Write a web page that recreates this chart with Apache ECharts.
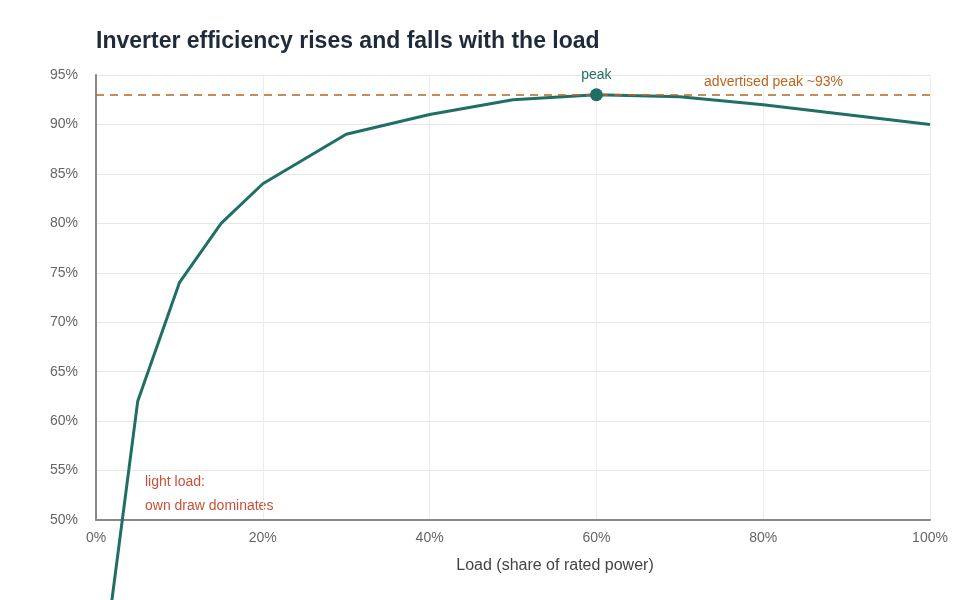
<!DOCTYPE html>
<html>
<head>
<meta charset="utf-8">
<style>
  html, body { margin: 0; padding: 0; background: #fff; }
  #chart { width: 980px; height: 600px; }
</style>
<script src="https://cdn.jsdelivr.net/npm/echarts@6/dist/echarts.min.js"></script>
</head>
<body>
<div id="chart"></div>
<script>
  // load (% of rated power) and efficiency (%)
  const loadPct = [1, 5, 10, 15, 20, 30, 40, 50, 60, 70, 80, 100]
  const efficiency = [36, 62, 74, 80, 84, 89, 91, 92.5, 93, 92.8, 92, 90]
  const advertisedPeak = 93
  const peakPoint = [60, 93]

  const teal = '#1f6f66'
  const orange = '#b8661e'

  const chart = echarts.init(document.getElementById('chart'))

  chart.setOption({
    animation: false,
    textStyle: { fontFamily: 'Liberation Sans, Arial, sans-serif' },
    title: {
      text: 'Inverter efficiency rises and falls with the load',
      left: 91,
      top: 25,
      textStyle: { fontSize: 23, fontWeight: 'bold', color: '#1f2a3a' }
    },
    grid: { left: 96, right: 50, top: 75, bottom: 80 },
    xAxis: {
      type: 'value',
      min: 0,
      max: 100,
      interval: 20,
      name: 'Load (share of rated power)',
      nameLocation: 'middle',
      nameGap: 38,
      nameTextStyle: { fontSize: 16, color: '#444', padding: [0, 0, 0, 84] },
      axisLine: { lineStyle: { color: '#888', width: 2 } },
      axisTick: { show: false },
      axisLabel: { formatter: '{value}%', color: '#666', fontSize: 14, margin: 11 },
      splitLine: { show: true, lineStyle: { color: '#ececec' } }
    },
    yAxis: {
      type: 'value',
      min: 50,
      max: 95,
      interval: 5,
      axisLine: { show: true, lineStyle: { color: '#888', width: 2 } },
      axisTick: { show: false },
      axisLabel: { formatter: '{value}%', color: '#666', fontSize: 14, margin: 18 },
      splitLine: { lineStyle: { color: '#e6e6e6' } }
    },
    graphic: [{
      type: 'text',
      left: 145,
      top: 470,
      style: {
        text: 'light load:\nown draw dominates',
        fill: '#c9503a',
        font: '14px Liberation Sans, Arial, sans-serif',
        lineHeight: 24
      }
    }],
    series: [{
      type: 'line',
      data: loadPct.map((x, i) => [x, efficiency[i]]),
      clip: false,
      symbol: 'none',
      lineStyle: { color: teal, width: 3 },
      markLine: {
        silent: true,
        symbol: ['none', 'none'],
        precision: 1,
        itemStyle: { color: orange },
        lineStyle: { color: orange, type: [8, 6], width: 1.5, opacity: 1 },
        data: [{ yAxis: advertisedPeak }],
        label: {
          position: 'insideEndTop',
          formatter: 'advertised peak ~93%',
          color: orange,
          fontSize: 14,
          distance: [87, 6]
        }
      },
      markPoint: {
        symbol: 'circle',
        symbolSize: 13,
        itemStyle: { color: teal },
        data: [{ coord: peakPoint }],
        label: {
          show: true,
          position: 'top',
          formatter: 'peak',
          color: teal,
          fontSize: 14,
          distance: 6
        }
      }
    }]
  })
</script>
</body>
</html>
